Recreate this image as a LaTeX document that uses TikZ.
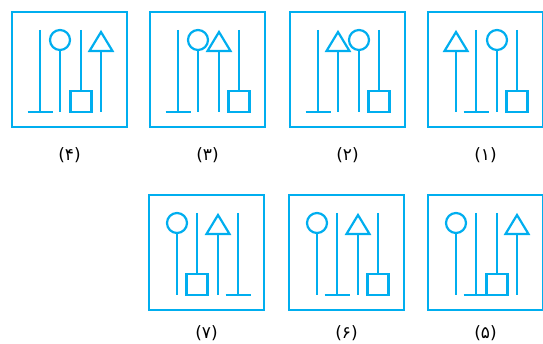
\documentclass[tikz,border=0pt]{standalone}
\usepackage{fontspec}
\newfontfamily\farsi[Script=Arabic]{DejaVu Sans}
\definecolor{sky}{HTML}{00AEEF}

% one symbol of a panel: column x, panel top y
\newcommand\symG[2]{%
  \draw[sym] (#1,#2+18) -- (#1,#2+100);
  \draw[sym] (#1-12.5,#2+100) -- (#1+12.5,#2+100);}
\newcommand\symC[2]{%
  \draw[sym] (#1,#2+28) circle (10);
  \draw[sym] (#1,#2+38) -- (#1,#2+100);}
\newcommand\symS[2]{%
  \draw[sym] (#1,#2+18) -- (#1,#2+79);
  \draw[sym] (#1-10.5,#2+79) rectangle (#1+10.5,#2+100);}
\newcommand\symT[2]{%
  \draw[sym] (#1,#2+20) -- (#1-11.5,#2+39) -- (#1+11.5,#2+39) -- cycle;
  \draw[sym] (#1,#2+39) -- (#1,#2+100);}
\newcommand\drawsym[3]{\csname sym#1\endcsname{#2}{#3}}

\begin{document}
\begin{tikzpicture}[
 x=1pt,y=-1pt,
 frame/.style={draw=sky,line width=2.6pt},
 sym/.style={draw=sky,line width=2.2pt},
 lab/.style={font=\farsi\fontsize{17}{20}\selectfont,text=black}
]
\useasboundingbox (0,0) rectangle (543,344);

% Panels: left edge, top edge, label height, label, symbol order.
\foreach \k/\bx/\by/\ly/\lab/\sa/\sb/\sc/\sd in {
  4/12/12/155/۴/G/C/S/T,
  3/150/12/155/۳/G/C/T/S,
  2/290/12/155/۲/G/T/C/S,
  1/428/12/155/۱/T/G/C/S,
  7/149/195/333/۷/C/S/T/G,
  6/289/195/333/۶/C/G/T/S,
  5/428/195/333/۵/C/G/S/T} {
  \draw[frame] (\bx,\by) rectangle ++(115,115);
  \drawsym{\sa}{\bx+28}{\by}
  \drawsym{\sb}{\bx+48}{\by}
  \drawsym{\sc}{\bx+69}{\by}
  \drawsym{\sd}{\bx+89}{\by}
  \node[lab] (label\k) at (\bx+57.5,\ly) {(\lab)};
}
\end{tikzpicture}
\end{document}
